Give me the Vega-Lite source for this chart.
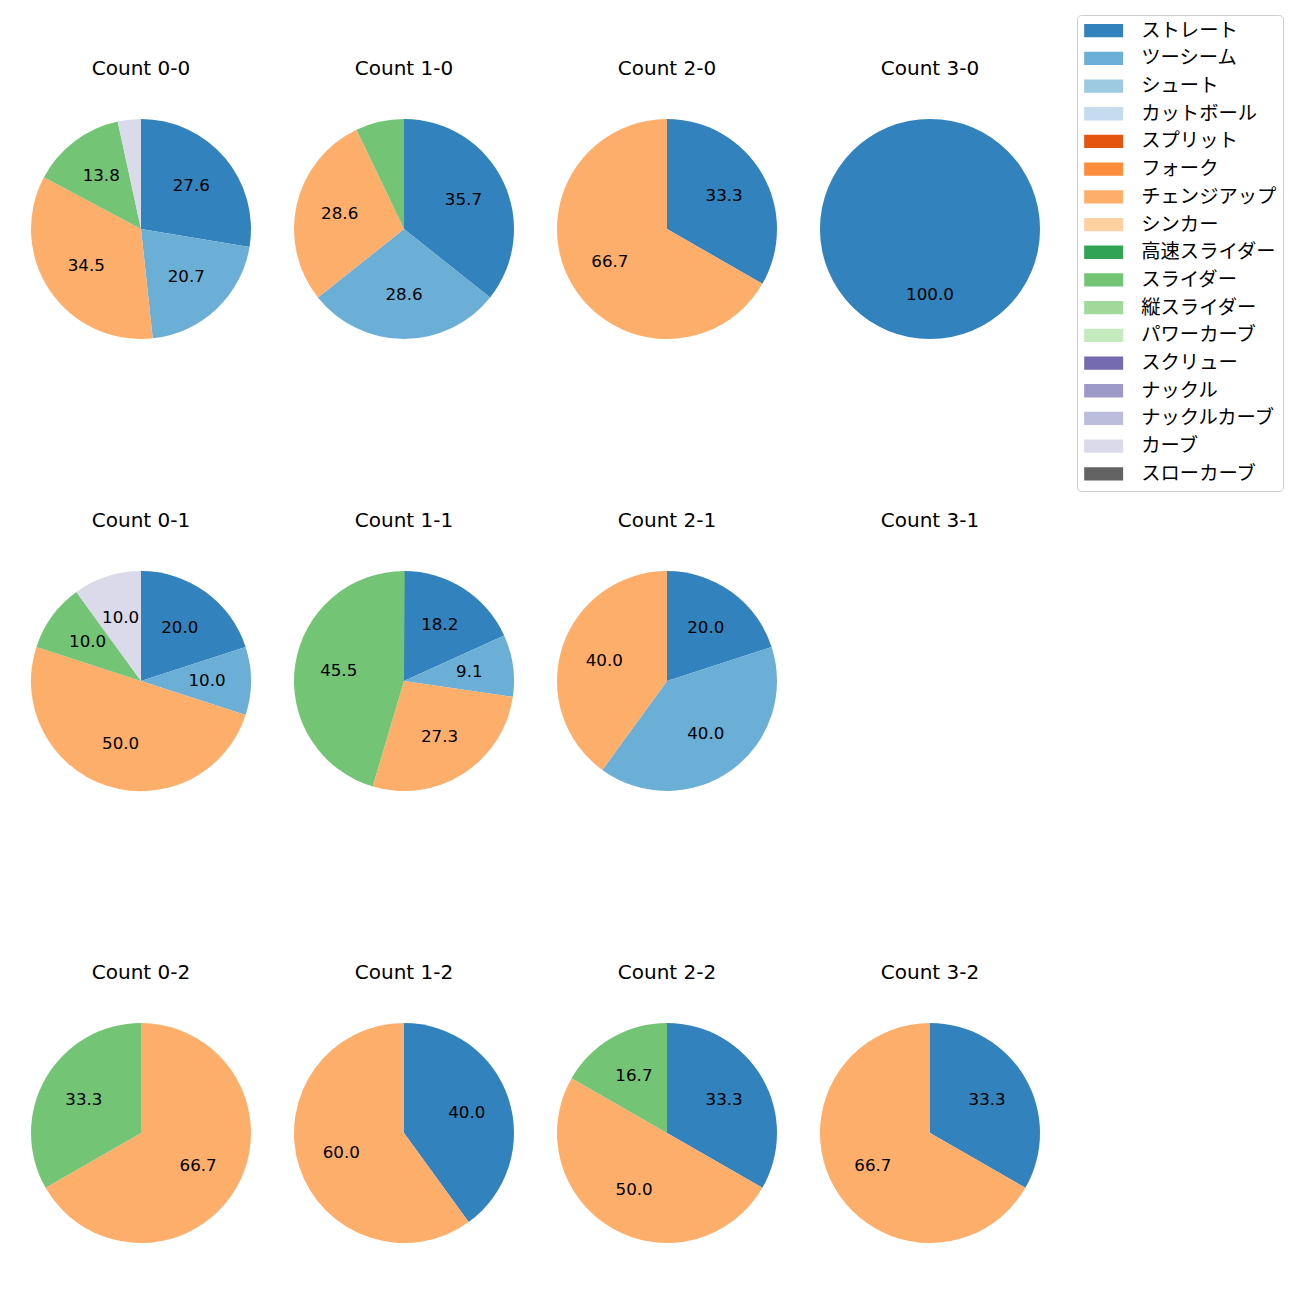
{
  "$schema": "https://vega.github.io/schema/vega-lite/v6.json",
  "background": "white",
  "padding": {"left": 31, "top": 14, "right": 0, "bottom": 0},
  "autosize": {"type": "pad"},
  "config": {"view": {"stroke": null}, "font": "DejaVu Sans, Noto Sans CJK JP"},
  "data": {"values": [
    {"count": "Count 0-0", "pitch": "ストレート", "k": 0, "pct": 27.6},
    {"count": "Count 0-0", "pitch": "ツーシーム", "k": 1, "pct": 20.7},
    {"count": "Count 0-0", "pitch": "チェンジアップ", "k": 6, "pct": 34.5},
    {"count": "Count 0-0", "pitch": "スライダー", "k": 9, "pct": 13.8},
    {"count": "Count 0-0", "pitch": "カーブ", "k": 15, "pct": 3.4},
    {"count": "Count 1-0", "pitch": "ストレート", "k": 0, "pct": 35.7},
    {"count": "Count 1-0", "pitch": "ツーシーム", "k": 1, "pct": 28.6},
    {"count": "Count 1-0", "pitch": "チェンジアップ", "k": 6, "pct": 28.6},
    {"count": "Count 1-0", "pitch": "スライダー", "k": 9, "pct": 7.1},
    {"count": "Count 2-0", "pitch": "ストレート", "k": 0, "pct": 33.3},
    {"count": "Count 2-0", "pitch": "チェンジアップ", "k": 6, "pct": 66.7},
    {"count": "Count 3-0", "pitch": "ストレート", "k": 0, "pct": 100.0},
    {"count": "Count 0-1", "pitch": "ストレート", "k": 0, "pct": 20.0},
    {"count": "Count 0-1", "pitch": "ツーシーム", "k": 1, "pct": 10.0},
    {"count": "Count 0-1", "pitch": "チェンジアップ", "k": 6, "pct": 50.0},
    {"count": "Count 0-1", "pitch": "スライダー", "k": 9, "pct": 10.0},
    {"count": "Count 0-1", "pitch": "カーブ", "k": 15, "pct": 10.0},
    {"count": "Count 1-1", "pitch": "ストレート", "k": 0, "pct": 18.2},
    {"count": "Count 1-1", "pitch": "ツーシーム", "k": 1, "pct": 9.1},
    {"count": "Count 1-1", "pitch": "チェンジアップ", "k": 6, "pct": 27.3},
    {"count": "Count 1-1", "pitch": "スライダー", "k": 9, "pct": 45.5},
    {"count": "Count 2-1", "pitch": "ストレート", "k": 0, "pct": 20.0},
    {"count": "Count 2-1", "pitch": "ツーシーム", "k": 1, "pct": 40.0},
    {"count": "Count 2-1", "pitch": "チェンジアップ", "k": 6, "pct": 40.0},
    {"count": "Count 3-1", "pitch": "ストレート", "k": 0, "pct": 0},
    {"count": "Count 0-2", "pitch": "チェンジアップ", "k": 6, "pct": 66.7},
    {"count": "Count 0-2", "pitch": "スライダー", "k": 9, "pct": 33.3},
    {"count": "Count 1-2", "pitch": "ストレート", "k": 0, "pct": 40.0},
    {"count": "Count 1-2", "pitch": "チェンジアップ", "k": 6, "pct": 60.0},
    {"count": "Count 2-2", "pitch": "ストレート", "k": 0, "pct": 33.3},
    {"count": "Count 2-2", "pitch": "チェンジアップ", "k": 6, "pct": 50.0},
    {"count": "Count 2-2", "pitch": "スライダー", "k": 9, "pct": 16.7},
    {"count": "Count 3-2", "pitch": "ストレート", "k": 0, "pct": 33.3},
    {"count": "Count 3-2", "pitch": "チェンジアップ", "k": 6, "pct": 66.7}
  ]},
  "facet": {
    "field": "count", "type": "nominal",
    "sort": ["Count 0-0", "Count 1-0", "Count 2-0", "Count 3-0", "Count 0-1", "Count 1-1", "Count 2-1", "Count 3-1", "Count 0-2", "Count 1-2", "Count 2-2", "Count 3-2"],
    "header": {"title": null, "labelFontSize": 20, "labelFont": "DejaVu Sans", "labelColor": "black", "labelPadding": 40}
  },
  "columns": 4,
  "spacing": {"column": 43, "row": 172},
  "spec": {
    "width": 220,
    "height": 220,
    "encoding": {
      "theta": {"field": "pct", "type": "quantitative", "stack": true, "scale": {"domain": [0, 100]}},
      "order": {"field": "k", "type": "quantitative"}
    },
    "layer": [
      {
        "mark": {"type": "arc", "outerRadius": 110},
        "encoding": {
          "color": {
            "field": "pitch", "type": "nominal",
            "scale": {
              "domain": ["ストレート", "ツーシーム", "シュート", "カットボール", "スプリット", "フォーク", "チェンジアップ", "シンカー", "高速スライダー", "スライダー", "縦スライダー", "パワーカーブ", "スクリュー", "ナックル", "ナックルカーブ", "カーブ", "スローカーブ"],
              "range": ["#3182bd", "#6baed6", "#9ecae1", "#c6dbef", "#e6550d", "#fd8d3c", "#fdae6b", "#fdd0a2", "#31a354", "#74c476", "#a1d99b", "#c7e9c0", "#756bb1", "#9e9ac8", "#bcbddc", "#dadaeb", "#636363"]
            },
            "legend": {
              "title": null,
              "orient": "none",
              "legendX": 1046,
              "legendY": -104,
              "symbolType": "M-1.06,-0.83L3.81,-0.83L3.81,0.83L-1.06,0.83Z",
              "symbolSize": 256,
              "symbolStrokeWidth": 0,
              "labelFontSize": 19.3,
              "labelFont": "DejaVu Sans, Noto Sans CJK JP",
              "labelColor": "black",
              "labelOffset": 39,
              "labelLimit": 300,
              "rowPadding": 7.7,
              "padding": 6,
              "strokeColor": "#cccccc",
              "fillColor": "white",
              "cornerRadius": 4
            }
          }
        }
      },
      {
        "transform": [{"filter": "datum.pct >= 8"}],
        "mark": {"type": "text", "radius": 66, "fontSize": 16.7, "font": "DejaVu Sans", "color": "black"},
        "encoding": {
          "text": {"field": "pct", "type": "quantitative", "format": ".1f"}
        }
      }
    ]
  }
}
